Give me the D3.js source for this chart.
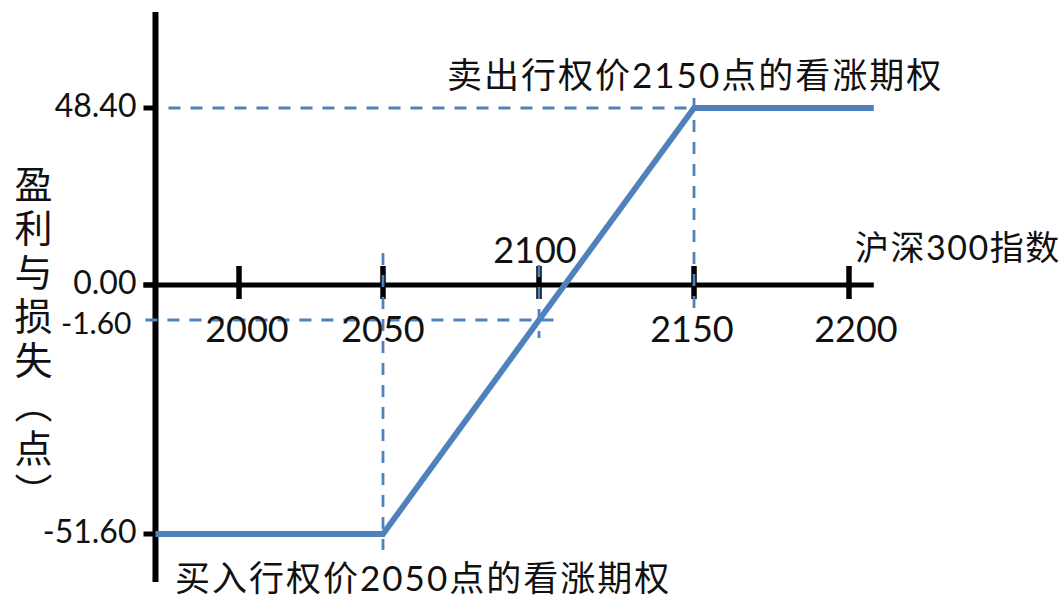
<!DOCTYPE html>
<html><head><meta charset="utf-8">
<script src="https://cdn.jsdelivr.net/npm/d3@7/dist/d3.min.js"></script>
<style>
html,body{margin:0;padding:0;background:#fff;}
svg{display:block;}
text{font-family:"Lato","Noto Sans CJK SC",sans-serif;fill:#111;}
</style></head>
<body>
<svg id="chart" width="1064" height="598"></svg>
<script>
// ---- data ----
const indexTicks = [2000, 2050, 2100, 2150, 2200];
const profitTicks = [48.40, 0.00, -51.60];
const profitMarks = [48.40, 0.00, -1.60, -51.60];
const payoffIndex = [1971, 2050, 2100, 2150, 2208];
const payoffProfit = [-51.60, -51.60, -1.60, 48.40, 48.40];
const sellLabel = "卖出行权价2150点的看涨期权";
const buyLabel = "买入行权价2050点的看涨期权";
const xTitle = "沪深300指数";
const yTitle = "盈利与损失（点）";

const svg = d3.select("#chart");
const blue = "#4f81bd";

// schematic (piecewise) scales
const x = d3.scaleLinear().domain([2000, 2050, 2100, 2150, 2200]).range([239, 383, 539, 694, 849]);
const y = d3.scaleLinear().domain(profitMarks).range([108, 285, 320, 534]);
const fmt = d => d3.format(".2f")(d).replace("\u2212", "-");

const x0 = x(payoffIndex[0]);          // y-axis position
const xEnd = x(payoffIndex[payoffIndex.length - 1]);
const y0 = y(0);

// axes lines
svg.append("line").attr("x1", x0).attr("x2", x0).attr("y1", 12).attr("y2", 582)
  .attr("stroke", "#000").attr("stroke-width", 6);
svg.append("line").attr("x1", x0 - 12).attr("x2", xEnd).attr("y1", y0).attr("y2", y0)
  .attr("stroke", "#000").attr("stroke-width", 5);

// y ticks (black)
svg.append("g").selectAll("line").data(profitTicks).join("line")
  .attr("x1", x0 - 12).attr("x2", x0).attr("y1", d => y(d)).attr("y2", d => y(d))
  .attr("stroke", "#000").attr("stroke-width", 5);

// x ticks
svg.append("g").selectAll("line").data(indexTicks).join("line")
  .attr("x1", d => x(d)).attr("x2", d => x(d)).attr("y1", y0 - 19).attr("y2", y0 + 14)
  .attr("stroke", "#000").attr("stroke-width", 5.5);

// dashed reference lines
const dash = (x1, y1, x2, y2) => svg.append("line")
  .attr("x1", x1).attr("y1", y1).attr("x2", x2).attr("y2", y2)
  .attr("stroke", blue).attr("stroke-width", 2.8).attr("stroke-dasharray", "12,10");
dash(x0 + 13, y(48.4), x(2150), y(48.4));
dash(x(2150), y(48.4) - 10, x(2150), y0 + 25);
dash(x(2050), y0 - 32, x(2050), y(-51.6) + 16);
dash(x0 - 10, y(-1.6), x(2100) + 16, y(-1.6));
dash(x(2100), y0 - 20, x(2100), y(-1.6) + 18);

// payoff line
const line = d3.line().x(d => x(d[0])).y(d => y(d[1]));
svg.append("path").datum(payoffIndex.map((v, i) => [v, payoffProfit[i]]))
  .attr("d", line).attr("fill", "none").attr("stroke", blue)
  .attr("stroke-width", 5.8).attr("stroke-linejoin", "miter");

// y tick labels
svg.append("g").selectAll("text").data(profitMarks).join("text")
  .attr("x", d => x0 - (d === -1.6 ? 24 : 19))
  .attr("y", d => y(d) + (d === -1.6 ? 6 : 1))
  .attr("text-anchor", "end").attr("dominant-baseline", "middle")
  .attr("font-size", d => d === -1.6 ? 30 : 32)
  .text(d => fmt(d));

// x tick labels (slight manual label offsets as in the original drawing)
const labelShift = {2000: 8, 2050: 0, 2100: -4, 2150: -2, 2200: 7};
svg.append("g").selectAll("text").data(indexTicks).join("text")
  .attr("x", d => x(d) + labelShift[d])
  .attr("y", d => d === 2100 ? y0 - 22 : y0 + 57)
  .attr("text-anchor", "middle").attr("font-size", 36)
  .text(d => d);

// annotations
svg.append("text").attr("x", 447).attr("y", 88).attr("font-size", 35)
  .attr("letter-spacing", 2).text(sellLabel);
svg.append("text").attr("x", 175).attr("y", 591).attr("font-size", 35)
  .attr("letter-spacing", 2).text(buyLabel);
svg.append("text").attr("x", 855).attr("y", 260).attr("font-size", 34)
  .attr("letter-spacing", 1.5).text(xTitle);

// y title (vertical)
svg.append("text").attr("x", 32).attr("y", 165).attr("font-size", 38)
  .attr("letter-spacing", 6)
  .style("writing-mode", "vertical-rl")
  .attr("fill", "#222")
  .text(yTitle);
</script>
</body></html>
